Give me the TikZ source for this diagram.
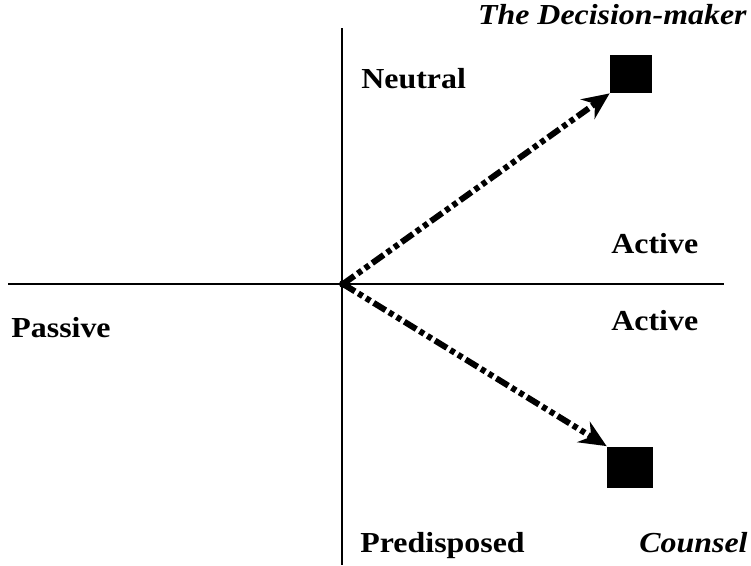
\documentclass[tikz,border=0pt]{standalone}
\usepackage{fontspec}
\setmainfont{Liberation Serif}[FakeStretch=1.1]
\usetikzlibrary{arrows.meta, positioning}

\begin{document}
\begin{tikzpicture}[
                        x=1pt,
                        y=-1pt,
                        >={Stealth[length=27pt,width=24pt,inset=9pt]},
                        thick
                    ]
                    \tikzset{
                        axislabel/.style = {anchor=base west, inner sep=0pt, font=\fontsize{29}{32}\selectfont\bfseries},
                        rolelabel/.style = {anchor=base east, inner sep=0pt, font=\fontsize{29}{32}\selectfont\bfseries\itshape},
                        moveline/.style = {->, line width=6pt, dash pattern=on 14pt off 4pt on 5pt off 4pt on 5pt off 4pt},
                        party/.style = {fill=black, inner sep=0pt}
                    }
                    \useasboundingbox (0,0) rectangle (751,565);

                    % Axes
                    \coordinate (W) at (8,284);
                    \coordinate (E) at (724,284);
                    \coordinate (N) at (342,28);
                    \coordinate (S) at (342,565);
                    \draw[line width=1.5pt] (W) -- (E);
                    \draw[line width=1.5pt] (N) -- (S);
                    \node[circle, fill=black, inner sep=0pt, minimum size=8pt] (O) at (343,284) {};

                    % Axis labels
                    \node[axislabel] (neutral) at (361,88) {Neutral};
                    \node[axislabel] (activeup) at (611,253) {Active};
                    \node[axislabel] (activedown) at (611,330) {Active};
                    \node[axislabel] (passive) at (11,337) {Passive};
                    \node[axislabel] (predisposed) at (360,552) {Predisposed};

                    % Decision-maker and counsel
                    \node[party, minimum width=42pt, minimum height=38pt] (DM) at (631,74) {};
                    \node[party, minimum width=46pt, minimum height=41pt] (CO) at (630,467) {};
                    \node[rolelabel] (dmlabel) at (747,24) {The Decision-maker};
                    \node[rolelabel] (colabel) at (748,552) {Counsel};

                    \draw[moveline] (O.center) -- (DM.south west);
                    \draw[moveline] (O.center) -- (CO.north west);

                \end{tikzpicture}
\end{document}
